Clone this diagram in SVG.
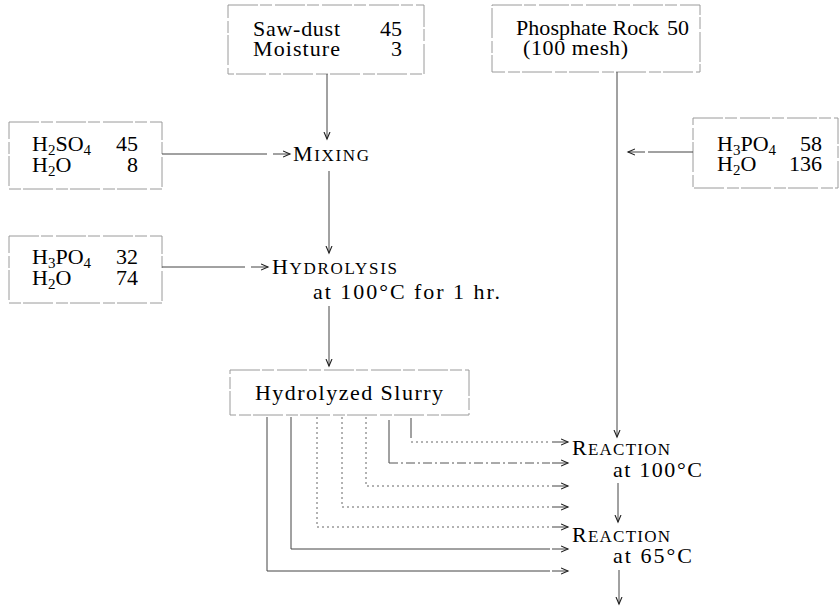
<svg xmlns="http://www.w3.org/2000/svg" width="839" height="614" viewBox="0 0 839 614">
<defs>
<marker id="ah" markerUnits="userSpaceOnUse" markerWidth="10" markerHeight="10" refX="7" refY="4" orient="auto">
<path d="M0,1 L7,4 L0,7" fill="none" stroke="#222" stroke-width="1.1"/>
</marker>
<style>
text{font-family:"Liberation Serif","Times New Roman",serif;font-size:22px;fill:#000}
.sub{font-size:15px}
.sc{font-size:17px}
.box{fill:none;stroke:#9a9a9a;stroke-width:1;stroke-dasharray:30 2 12 3}
.c{fill:none;stroke:#444;stroke-width:1}
.dot{fill:none;stroke:#666;stroke-width:1;stroke-dasharray:2 3}
.dd{fill:none;stroke:#555;stroke-width:1;stroke-dasharray:9 3 2 3}
.a{marker-end:url(#ah)}
</style>
</defs>
<rect width="839" height="614" fill="#fff"/>
<g font-family="Liberation Serif, Times New Roman, serif">

<g id="sawdust">
<rect class="box" x="228" y="5" width="196" height="69"/>
<text x="253" y="36" textLength="87" lengthAdjust="spacing">Saw-dust</text>
<text x="402" y="36" text-anchor="end">45</text>
<text x="253" y="56" textLength="87" lengthAdjust="spacing">Moisture</text>
<text x="402" y="56" text-anchor="end">3</text>
</g>

<g id="phosphate">
<rect class="box" x="492" y="5" width="208" height="67"/>
<text x="516" y="35" textLength="143" lengthAdjust="spacing">Phosphate Rock</text>
<text x="689" y="35" text-anchor="end">50</text>
<text x="523" y="55" textLength="105" lengthAdjust="spacing">(100 mesh)</text>
</g>

<g id="h2so4">
<rect class="box" x="9" y="122" width="153" height="67"/>
<text x="32" y="151">H<tspan class="sub" dy="4">2</tspan><tspan dy="-4">SO</tspan><tspan class="sub" dy="4">4</tspan></text>
<text x="138" y="151" text-anchor="end">45</text>
<text x="32" y="172">H<tspan class="sub" dy="4">2</tspan><tspan dy="-4">O</tspan></text>
<text x="138" y="172" text-anchor="end">8</text>
</g>

<g id="h3po4a">
<rect class="box" x="9" y="236" width="153" height="67"/>
<text x="32" y="264">H<tspan class="sub" dy="4">3</tspan><tspan dy="-4">PO</tspan><tspan class="sub" dy="4">4</tspan></text>
<text x="138" y="264" text-anchor="end">32</text>
<text x="32" y="285">H<tspan class="sub" dy="4">2</tspan><tspan dy="-4">O</tspan></text>
<text x="138" y="285" text-anchor="end">74</text>
</g>

<g id="h3po4b">
<rect class="box" x="693" y="118" width="145" height="70"/>
<text x="717" y="151">H<tspan class="sub" dy="4">3</tspan><tspan dy="-4">PO</tspan><tspan class="sub" dy="4">4</tspan></text>
<text x="822" y="151" text-anchor="end">58</text>
<text x="717" y="171">H<tspan class="sub" dy="4">2</tspan><tspan dy="-4">O</tspan></text>
<text x="822" y="171" text-anchor="end">136</text>
</g>

<g id="mixing">
<text x="293" y="161" textLength="76" lengthAdjust="spacing">M<tspan class="sc">IXING</tspan></text>
</g>

<g id="hydrolysis">
<text x="272" y="274" textLength="125" lengthAdjust="spacing">H<tspan class="sc">YDROLYSIS</tspan></text>
<text x="313" y="299" textLength="187" lengthAdjust="spacing">at 100°C for 1 hr.</text>
</g>

<g id="slurry">
<rect class="box" x="230" y="370" width="239" height="45"/>
<text x="255" y="400" textLength="188" lengthAdjust="spacing">Hydrolyzed Slurry</text>
</g>

<g id="reaction1">
<text x="572" y="455" textLength="98" lengthAdjust="spacing">R<tspan class="sc">EACTION</tspan></text>
<text x="613" y="477" textLength="89" lengthAdjust="spacing">at 100°C</text>
</g>

<g id="reaction2">
<text x="572" y="542" textLength="98" lengthAdjust="spacing">R<tspan class="sc">EACTION</tspan></text>
<text x="613" y="563" textLength="79" lengthAdjust="spacing">at 65°C</text>
</g>
</g>

<g id="connectors">
<path class="c a" d="M327,74 V139"/>
<path class="c a" d="M162,154 H267 M273,154 H290"/>
<path class="c a" d="M329,171 V253"/>
<path class="c a" d="M162,267 H245 M251,267 H268"/>
<path class="c a" d="M329,306 V366"/>
<path class="c a" d="M617,72 V437"/>
<path class="c a" d="M693,152 H648 M645,152 H628"/>
<path class="c a" d="M618,483 V522"/>
<path class="c a" d="M619,570 V604"/>

<path class="c" d="M411,418 V438"/>
<path class="dot" d="M411,442 H550"/>
<path class="c a" d="M552,442 H568"/>

<path class="c" d="M389,420 V463"/>
<path class="dd" d="M389,463 H550"/>
<path class="c a" d="M552,463 H568"/>

<path class="dot" d="M366,417 V486 H550"/>
<path class="c a" d="M552,486 H568"/>

<path class="dot" d="M342,417 V507 H550"/>
<path class="c a" d="M552,507 H568"/>

<path class="dot" d="M317,417 V527 H550"/>
<path class="c a" d="M552,527 H568"/>

<path class="c" d="M291,417 V549 H550"/>
<path class="c a" d="M552,549 H568"/>

<path class="c" d="M267,417 V571 H550"/>
<path class="c a" d="M552,571 H568"/>
</g>
</svg>
